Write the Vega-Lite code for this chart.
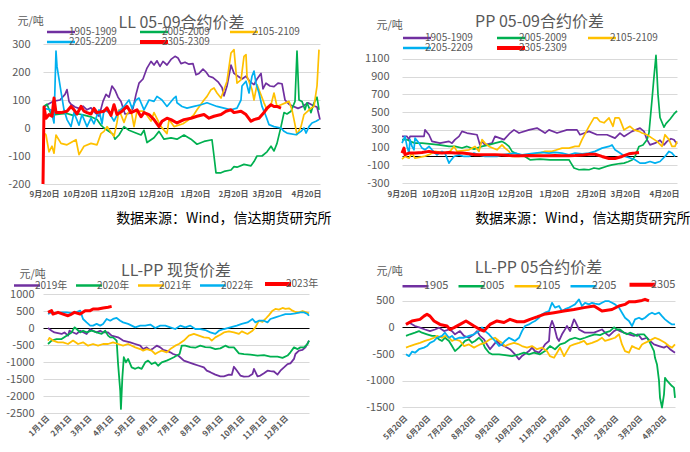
{
"$schema": "https://vega.github.io/schema/vega-lite/v6.json",
"background": "white",
"autosize": {"type": "pad"},
"padding": {"left": 5, "top": 14, "right": 0, "bottom": 0},
"config": {"font": "Noto Sans CJK SC", "view": {"stroke": null}, "axis": {"labelColor": "#595959", "domain": false, "ticks": false}, "legend": {"padding": 0}},
"columns": 2,
"spacing": {"row": 110, "column": 82},
"bounds": "flush",
"resolve": {"scale": {"color": "independent"}, "legend": {"color": "independent"}},
"datasets": {
"p1": [
{"s":"1905-1909","t":1,"v":75},{"s":"1905-1909","t":5,"v":85},{"s":"1905-1909","t":10,"v":95},{"s":"1905-1909","t":17,"v":100},{"s":"1905-1909","t":22,"v":120},{"s":"1905-1909","t":24,"v":137},{"s":"1905-1909","t":26,"v":95},{"s":"1905-1909","t":28,"v":85},{"s":"1905-1909","t":32,"v":75},{"s":"1905-1909","t":36,"v":70},{"s":"1905-1909","t":40,"v":78},{"s":"1905-1909","t":44,"v":65},{"s":"1905-1909","t":48,"v":72},{"s":"1905-1909","t":52,"v":55},{"s":"1905-1909","t":56,"v":42},{"s":"1905-1909","t":60,"v":95},{"s":"1905-1909","t":63,"v":120},{"s":"1905-1909","t":66,"v":110},{"s":"1905-1909","t":69,"v":150},{"s":"1905-1909","t":72,"v":135},{"s":"1905-1909","t":75,"v":110},{"s":"1905-1909","t":78,"v":95},{"s":"1905-1909","t":82,"v":50},{"s":"1905-1909","t":86,"v":52},{"s":"1905-1909","t":90,"v":70},{"s":"1905-1909","t":93,"v":120},{"s":"1905-1909","t":96,"v":160},{"s":"1905-1909","t":100,"v":175},{"s":"1905-1909","t":104,"v":214},{"s":"1905-1909","t":108,"v":238},{"s":"1905-1909","t":111,"v":225},{"s":"1905-1909","t":114,"v":240},{"s":"1905-1909","t":117,"v":220},{"s":"1905-1909","t":120,"v":238},{"s":"1905-1909","t":124,"v":225},{"s":"1905-1909","t":128,"v":245},{"s":"1905-1909","t":132,"v":256},{"s":"1905-1909","t":135,"v":250},{"s":"1905-1909","t":138,"v":230},{"s":"1905-1909","t":142,"v":235},{"s":"1905-1909","t":146,"v":228},{"s":"1905-1909","t":150,"v":230},{"s":"1905-1909","t":153,"v":190},{"s":"1905-1909","t":156,"v":195},{"s":"1905-1909","t":160,"v":210},{"s":"1905-1909","t":163,"v":200},{"s":"1905-1909","t":166,"v":185},{"s":"1905-1909","t":170,"v":180},{"s":"1905-1909","t":175,"v":165},{"s":"1905-1909","t":179,"v":145},{"s":"1905-1909","t":181,"v":115},{"s":"1905-1909","t":184,"v":150},{"s":"1905-1909","t":188,"v":225},{"s":"1905-1909","t":191,"v":195},{"s":"1905-1909","t":195,"v":185},{"s":"1905-1909","t":199,"v":175},{"s":"1905-1909","t":203,"v":185},{"s":"1905-1909","t":207,"v":165},{"s":"1905-1909","t":211,"v":155},{"s":"1905-1909","t":214,"v":175},{"s":"1905-1909","t":218,"v":195},{"s":"1905-1909","t":220,"v":140},{"s":"1905-1909","t":223,"v":160},{"s":"1905-1909","t":227,"v":150},{"s":"1905-1909","t":231,"v":148},{"s":"1905-1909","t":235,"v":160},{"s":"1905-1909","t":239,"v":158},{"s":"1905-1909","t":242,"v":100},{"s":"1905-1909","t":246,"v":85},{"s":"1905-1909","t":250,"v":78},{"s":"1905-1909","t":255,"v":70},{"s":"1905-1909","t":260,"v":78},{"s":"1905-1909","t":265,"v":90},{"s":"1905-1909","t":270,"v":80},{"s":"1905-1909","t":274,"v":75},{"s":"1905-1909","t":277,"v":30},
{"s":"2005-2009","t":1,"v":78},{"s":"2005-2009","t":4,"v":85},{"s":"2005-2009","t":8,"v":50},{"s":"2005-2009","t":12,"v":48},{"s":"2005-2009","t":18,"v":50},{"s":"2005-2009","t":24,"v":52},{"s":"2005-2009","t":30,"v":45},{"s":"2005-2009","t":36,"v":50},{"s":"2005-2009","t":42,"v":45},{"s":"2005-2009","t":48,"v":40},{"s":"2005-2009","t":54,"v":30},{"s":"2005-2009","t":58,"v":10},{"s":"2005-2009","t":61,"v":0},{"s":"2005-2009","t":65,"v":-10},{"s":"2005-2009","t":70,"v":-22},{"s":"2005-2009","t":72,"v":-40},{"s":"2005-2009","t":76,"v":-25},{"s":"2005-2009","t":81,"v":5},{"s":"2005-2009","t":86,"v":-8},{"s":"2005-2009","t":91,"v":-15},{"s":"2005-2009","t":98,"v":-25},{"s":"2005-2009","t":101,"v":-8},{"s":"2005-2009","t":104,"v":-52},{"s":"2005-2009","t":111,"v":-35},{"s":"2005-2009","t":116,"v":-12},{"s":"2005-2009","t":121,"v":-40},{"s":"2005-2009","t":128,"v":-35},{"s":"2005-2009","t":134,"v":-40},{"s":"2005-2009","t":141,"v":-25},{"s":"2005-2009","t":148,"v":-40},{"s":"2005-2009","t":154,"v":-58},{"s":"2005-2009","t":161,"v":-48},{"s":"2005-2009","t":169,"v":-42},{"s":"2005-2009","t":171,"v":-100},{"s":"2005-2009","t":173,"v":-160},{"s":"2005-2009","t":178,"v":-160},{"s":"2005-2009","t":181,"v":-155},{"s":"2005-2009","t":188,"v":-150},{"s":"2005-2009","t":191,"v":-138},{"s":"2005-2009","t":194,"v":-140},{"s":"2005-2009","t":201,"v":-130},{"s":"2005-2009","t":208,"v":-135},{"s":"2005-2009","t":211,"v":-120},{"s":"2005-2009","t":214,"v":-100},{"s":"2005-2009","t":219,"v":-100},{"s":"2005-2009","t":224,"v":-85},{"s":"2005-2009","t":228,"v":-65},{"s":"2005-2009","t":231,"v":-82},{"s":"2005-2009","t":234,"v":-55},{"s":"2005-2009","t":238,"v":5},{"s":"2005-2009","t":241,"v":55},{"s":"2005-2009","t":244,"v":50},{"s":"2005-2009","t":248,"v":60},{"s":"2005-2009","t":252,"v":95},{"s":"2005-2009","t":254,"v":275},{"s":"2005-2009","t":256,"v":100},{"s":"2005-2009","t":259,"v":95},{"s":"2005-2009","t":262,"v":65},{"s":"2005-2009","t":264,"v":90},{"s":"2005-2009","t":268,"v":55},{"s":"2005-2009","t":271,"v":90},{"s":"2005-2009","t":274,"v":110},{"s":"2005-2009","t":276,"v":65},
{"s":"2105-2109","t":2,"v":-20},{"s":"2105-2109","t":3,"v":-25},{"s":"2105-2109","t":6,"v":-85},{"s":"2105-2109","t":9,"v":-65},{"s":"2105-2109","t":11,"v":-90},{"s":"2105-2109","t":13,"v":-25},{"s":"2105-2109","t":18,"v":-55},{"s":"2105-2109","t":24,"v":-60},{"s":"2105-2109","t":33,"v":-42},{"s":"2105-2109","t":36,"v":-95},{"s":"2105-2109","t":41,"v":-65},{"s":"2105-2109","t":48,"v":-55},{"s":"2105-2109","t":54,"v":-60},{"s":"2105-2109","t":58,"v":-20},{"s":"2105-2109","t":61,"v":-12},{"s":"2105-2109","t":64,"v":5},{"s":"2105-2109","t":71,"v":-30},{"s":"2105-2109","t":74,"v":20},{"s":"2105-2109","t":76,"v":65},{"s":"2105-2109","t":81,"v":20},{"s":"2105-2109","t":84,"v":50},{"s":"2105-2109","t":88,"v":65},{"s":"2105-2109","t":91,"v":5},{"s":"2105-2109","t":94,"v":60},{"s":"2105-2109","t":101,"v":60},{"s":"2105-2109","t":108,"v":25},{"s":"2105-2109","t":111,"v":55},{"s":"2105-2109","t":118,"v":5},{"s":"2105-2109","t":124,"v":-20},{"s":"2105-2109","t":126,"v":30},{"s":"2105-2109","t":131,"v":5},{"s":"2105-2109","t":140,"v":15},{"s":"2105-2109","t":146,"v":30},{"s":"2105-2109","t":151,"v":48},{"s":"2105-2109","t":154,"v":65},{"s":"2105-2109","t":161,"v":100},{"s":"2105-2109","t":164,"v":113},{"s":"2105-2109","t":168,"v":137},{"s":"2105-2109","t":171,"v":143},{"s":"2105-2109","t":174,"v":125},{"s":"2105-2109","t":178,"v":107},{"s":"2105-2109","t":184,"v":167},{"s":"2105-2109","t":188,"v":268},{"s":"2105-2109","t":191,"v":280},{"s":"2105-2109","t":194,"v":160},{"s":"2105-2109","t":198,"v":172},{"s":"2105-2109","t":201,"v":256},{"s":"2105-2109","t":203,"v":262},{"s":"2105-2109","t":204,"v":185},{"s":"2105-2109","t":209,"v":137},{"s":"2105-2109","t":211,"v":100},{"s":"2105-2109","t":214,"v":155},{"s":"2105-2109","t":221,"v":90},{"s":"2105-2109","t":224,"v":65},{"s":"2105-2109","t":228,"v":83},{"s":"2105-2109","t":231,"v":125},{"s":"2105-2109","t":234,"v":77},{"s":"2105-2109","t":246,"v":95},{"s":"2105-2109","t":249,"v":65},{"s":"2105-2109","t":251,"v":30},{"s":"2105-2109","t":254,"v":-24},{"s":"2105-2109","t":258,"v":5},{"s":"2105-2109","t":261,"v":48},{"s":"2105-2109","t":268,"v":71},{"s":"2105-2109","t":271,"v":77},{"s":"2105-2109","t":274,"v":150},{"s":"2105-2109","t":276,"v":280},
{"s":"2205-2209","t":1,"v":70},{"s":"2205-2209","t":8,"v":65},{"s":"2205-2209","t":11,"v":18},{"s":"2205-2209","t":12,"v":150},{"s":"2205-2209","t":13,"v":275},{"s":"2205-2209","t":14,"v":220},{"s":"2205-2209","t":18,"v":130},{"s":"2205-2209","t":21,"v":65},{"s":"2205-2209","t":24,"v":30},{"s":"2205-2209","t":28,"v":5},{"s":"2205-2209","t":31,"v":55},{"s":"2205-2209","t":36,"v":10},{"s":"2205-2209","t":39,"v":48},{"s":"2205-2209","t":44,"v":5},{"s":"2205-2209","t":48,"v":35},{"s":"2205-2209","t":51,"v":15},{"s":"2205-2209","t":56,"v":65},{"s":"2205-2209","t":59,"v":15},{"s":"2205-2209","t":61,"v":65},{"s":"2205-2209","t":66,"v":55},{"s":"2205-2209","t":71,"v":25},{"s":"2205-2209","t":76,"v":60},{"s":"2205-2209","t":81,"v":77},{"s":"2205-2209","t":86,"v":100},{"s":"2205-2209","t":89,"v":71},{"s":"2205-2209","t":93,"v":100},{"s":"2205-2209","t":96,"v":107},{"s":"2205-2209","t":101,"v":65},{"s":"2205-2209","t":106,"v":100},{"s":"2205-2209","t":111,"v":95},{"s":"2205-2209","t":114,"v":113},{"s":"2205-2209","t":119,"v":100},{"s":"2205-2209","t":124,"v":77},{"s":"2205-2209","t":131,"v":107},{"s":"2205-2209","t":133,"v":113},{"s":"2205-2209","t":134,"v":90},{"s":"2205-2209","t":139,"v":77},{"s":"2205-2209","t":144,"v":71},{"s":"2205-2209","t":151,"v":77},{"s":"2205-2209","t":158,"v":83},{"s":"2205-2209","t":164,"v":90},{"s":"2205-2209","t":174,"v":77},{"s":"2205-2209","t":188,"v":65},{"s":"2205-2209","t":194,"v":71},{"s":"2205-2209","t":198,"v":100},{"s":"2205-2209","t":199,"v":150},{"s":"2205-2209","t":203,"v":167},{"s":"2205-2209","t":206,"v":125},{"s":"2205-2209","t":209,"v":185},{"s":"2205-2209","t":211,"v":203},{"s":"2205-2209","t":213,"v":160},{"s":"2205-2209","t":216,"v":125},{"s":"2205-2209","t":219,"v":77},{"s":"2205-2209","t":223,"v":42},{"s":"2205-2209","t":226,"v":12},{"s":"2205-2209","t":231,"v":5},{"s":"2205-2209","t":238,"v":0},{"s":"2205-2209","t":241,"v":-12},{"s":"2205-2209","t":244,"v":-18},{"s":"2205-2209","t":253,"v":-24},{"s":"2205-2209","t":258,"v":-12},{"s":"2205-2209","t":261,"v":0},{"s":"2205-2209","t":263,"v":-18},{"s":"2205-2209","t":266,"v":5},{"s":"2205-2209","t":269,"v":18},{"s":"2205-2209","t":273,"v":24},{"s":"2205-2209","t":276,"v":30},
{"s":"2305-2309","t":0,"v":-200},{"s":"2305-2309","t":1,"v":75},{"s":"2305-2309","t":3,"v":35},{"s":"2305-2309","t":6,"v":48},{"s":"2305-2309","t":9,"v":42},{"s":"2305-2309","t":11,"v":107},{"s":"2305-2309","t":13,"v":55},{"s":"2305-2309","t":18,"v":55},{"s":"2305-2309","t":24,"v":60},{"s":"2305-2309","t":28,"v":77},{"s":"2305-2309","t":31,"v":65},{"s":"2305-2309","t":34,"v":50},{"s":"2305-2309","t":38,"v":77},{"s":"2305-2309","t":41,"v":60},{"s":"2305-2309","t":44,"v":55},{"s":"2305-2309","t":48,"v":50},{"s":"2305-2309","t":51,"v":70},{"s":"2305-2309","t":54,"v":55},{"s":"2305-2309","t":61,"v":60},{"s":"2305-2309","t":64,"v":72},{"s":"2305-2309","t":68,"v":45},{"s":"2305-2309","t":71,"v":83},{"s":"2305-2309","t":74,"v":48},{"s":"2305-2309","t":79,"v":60},{"s":"2305-2309","t":84,"v":77},{"s":"2305-2309","t":88,"v":55},{"s":"2305-2309","t":94,"v":65},{"s":"2305-2309","t":98,"v":40},{"s":"2305-2309","t":101,"v":55},{"s":"2305-2309","t":106,"v":48},{"s":"2305-2309","t":111,"v":30},{"s":"2305-2309","t":116,"v":5},{"s":"2305-2309","t":119,"v":24},{"s":"2305-2309","t":124,"v":35},{"s":"2305-2309","t":128,"v":30},{"s":"2305-2309","t":134,"v":18},{"s":"2305-2309","t":141,"v":30},{"s":"2305-2309","t":148,"v":35},{"s":"2305-2309","t":154,"v":42},{"s":"2305-2309","t":161,"v":48},{"s":"2305-2309","t":166,"v":35},{"s":"2305-2309","t":171,"v":42},{"s":"2305-2309","t":178,"v":48},{"s":"2305-2309","t":183,"v":60},{"s":"2305-2309","t":188,"v":65},{"s":"2305-2309","t":191,"v":55},{"s":"2305-2309","t":198,"v":60},{"s":"2305-2309","t":203,"v":48},{"s":"2305-2309","t":208,"v":24},{"s":"2305-2309","t":211,"v":30},{"s":"2305-2309","t":216,"v":35},{"s":"2305-2309","t":221,"v":55},{"s":"2305-2309","t":224,"v":71},{"s":"2305-2309","t":228,"v":83},{"s":"2305-2309","t":231,"v":77},{"s":"2305-2309","t":234,"v":77},{"s":"2305-2309","t":238,"v":71}
],
"p2": [
{"s":"1905-1909","t":0,"v":226},{"s":"1905-1909","t":5,"v":226},{"s":"1905-1909","t":7,"v":190},{"s":"1905-1909","t":8,"v":226},{"s":"1905-1909","t":12,"v":226},{"s":"1905-1909","t":22,"v":226},{"s":"1905-1909","t":23,"v":300},{"s":"1905-1909","t":27,"v":245},{"s":"1905-1909","t":30,"v":170},{"s":"1905-1909","t":38,"v":150},{"s":"1905-1909","t":47,"v":170},{"s":"1905-1909","t":50,"v":150},{"s":"1905-1909","t":53,"v":190},{"s":"1905-1909","t":57,"v":226},{"s":"1905-1909","t":60,"v":283},{"s":"1905-1909","t":65,"v":264},{"s":"1905-1909","t":75,"v":245},{"s":"1905-1909","t":78,"v":130},{"s":"1905-1909","t":80,"v":170},{"s":"1905-1909","t":83,"v":130},{"s":"1905-1909","t":90,"v":150},{"s":"1905-1909","t":93,"v":226},{"s":"1905-1909","t":102,"v":190},{"s":"1905-1909","t":108,"v":264},{"s":"1905-1909","t":112,"v":300},{"s":"1905-1909","t":117,"v":264},{"s":"1905-1909","t":127,"v":300},{"s":"1905-1909","t":135,"v":320},{"s":"1905-1909","t":143,"v":264},{"s":"1905-1909","t":147,"v":300},{"s":"1905-1909","t":155,"v":264},{"s":"1905-1909","t":165,"v":300},{"s":"1905-1909","t":175,"v":300},{"s":"1905-1909","t":178,"v":245},{"s":"1905-1909","t":187,"v":283},{"s":"1905-1909","t":195,"v":245},{"s":"1905-1909","t":205,"v":245},{"s":"1905-1909","t":213,"v":207},{"s":"1905-1909","t":218,"v":264},{"s":"1905-1909","t":222,"v":226},{"s":"1905-1909","t":230,"v":283},{"s":"1905-1909","t":238,"v":320},{"s":"1905-1909","t":242,"v":283},{"s":"1905-1909","t":245,"v":190},{"s":"1905-1909","t":248,"v":130},{"s":"1905-1909","t":253,"v":150},{"s":"1905-1909","t":258,"v":183},{"s":"1905-1909","t":262,"v":130},{"s":"1905-1909","t":265,"v":170},{"s":"1905-1909","t":269,"v":200},{"s":"1905-1909","t":272,"v":189},{"s":"1905-1909","t":275,"v":140},
{"s":"2005-2009","t":0,"v":190},{"s":"2005-2009","t":5,"v":190},{"s":"2005-2009","t":8,"v":170},{"s":"2005-2009","t":13,"v":150},{"s":"2005-2009","t":20,"v":150},{"s":"2005-2009","t":30,"v":140},{"s":"2005-2009","t":37,"v":130},{"s":"2005-2009","t":47,"v":113},{"s":"2005-2009","t":53,"v":113},{"s":"2005-2009","t":60,"v":95},{"s":"2005-2009","t":65,"v":113},{"s":"2005-2009","t":72,"v":83},{"s":"2005-2009","t":75,"v":94},{"s":"2005-2009","t":80,"v":113},{"s":"2005-2009","t":87,"v":130},{"s":"2005-2009","t":93,"v":150},{"s":"2005-2009","t":100,"v":170},{"s":"2005-2009","t":103,"v":150},{"s":"2005-2009","t":107,"v":113},{"s":"2005-2009","t":110,"v":57},{"s":"2005-2009","t":113,"v":38},{"s":"2005-2009","t":123,"v":0},{"s":"2005-2009","t":128,"v":-38},{"s":"2005-2009","t":138,"v":-30},{"s":"2005-2009","t":148,"v":-38},{"s":"2005-2009","t":167,"v":-38},{"s":"2005-2009","t":169,"v":-75},{"s":"2005-2009","t":172,"v":-130},{"s":"2005-2009","t":177,"v":-150},{"s":"2005-2009","t":182,"v":-145},{"s":"2005-2009","t":187,"v":-150},{"s":"2005-2009","t":192,"v":-130},{"s":"2005-2009","t":197,"v":-140},{"s":"2005-2009","t":205,"v":-110},{"s":"2005-2009","t":210,"v":-95},{"s":"2005-2009","t":218,"v":-80},{"s":"2005-2009","t":222,"v":-75},{"s":"2005-2009","t":226,"v":-60},{"s":"2005-2009","t":230,"v":-40},{"s":"2005-2009","t":233,"v":0},{"s":"2005-2009","t":237,"v":113},{"s":"2005-2009","t":241,"v":130},{"s":"2005-2009","t":245,"v":189},{"s":"2005-2009","t":247,"v":267},{"s":"2005-2009","t":250,"v":640},{"s":"2005-2009","t":252,"v":900},{"s":"2005-2009","t":254,"v":1140},{"s":"2005-2009","t":256,"v":700},{"s":"2005-2009","t":258,"v":440},{"s":"2005-2009","t":262,"v":330},{"s":"2005-2009","t":264,"v":370},{"s":"2005-2009","t":268,"v":420},{"s":"2005-2009","t":272,"v":480},{"s":"2005-2009","t":275,"v":515},
{"s":"2105-2109","t":0,"v":-30},{"s":"2105-2109","t":3,"v":0},{"s":"2105-2109","t":7,"v":-20},{"s":"2105-2109","t":10,"v":38},{"s":"2105-2109","t":13,"v":-20},{"s":"2105-2109","t":22,"v":0},{"s":"2105-2109","t":27,"v":20},{"s":"2105-2109","t":33,"v":57},{"s":"2105-2109","t":43,"v":38},{"s":"2105-2109","t":48,"v":57},{"s":"2105-2109","t":52,"v":113},{"s":"2105-2109","t":55,"v":57},{"s":"2105-2109","t":67,"v":75},{"s":"2105-2109","t":73,"v":113},{"s":"2105-2109","t":77,"v":57},{"s":"2105-2109","t":80,"v":190},{"s":"2105-2109","t":83,"v":150},{"s":"2105-2109","t":87,"v":113},{"s":"2105-2109","t":95,"v":75},{"s":"2105-2109","t":100,"v":130},{"s":"2105-2109","t":103,"v":94},{"s":"2105-2109","t":107,"v":57},{"s":"2105-2109","t":110,"v":0},{"s":"2105-2109","t":117,"v":0},{"s":"2105-2109","t":128,"v":20},{"s":"2105-2109","t":138,"v":38},{"s":"2105-2109","t":143,"v":57},{"s":"2105-2109","t":150,"v":57},{"s":"2105-2109","t":155,"v":75},{"s":"2105-2109","t":160,"v":94},{"s":"2105-2109","t":167,"v":94},{"s":"2105-2109","t":173,"v":113},{"s":"2105-2109","t":177,"v":113},{"s":"2105-2109","t":180,"v":190},{"s":"2105-2109","t":187,"v":340},{"s":"2105-2109","t":192,"v":435},{"s":"2105-2109","t":195,"v":435},{"s":"2105-2109","t":198,"v":395},{"s":"2105-2109","t":202,"v":380},{"s":"2105-2109","t":207,"v":435},{"s":"2105-2109","t":211,"v":340},{"s":"2105-2109","t":213,"v":435},{"s":"2105-2109","t":217,"v":435},{"s":"2105-2109","t":218,"v":415},{"s":"2105-2109","t":222,"v":300},{"s":"2105-2109","t":225,"v":320},{"s":"2105-2109","t":228,"v":340},{"s":"2105-2109","t":232,"v":300},{"s":"2105-2109","t":237,"v":283},{"s":"2105-2109","t":240,"v":264},{"s":"2105-2109","t":245,"v":245},{"s":"2105-2109","t":250,"v":207},{"s":"2105-2109","t":255,"v":170},{"s":"2105-2109","t":260,"v":113},{"s":"2105-2109","t":263,"v":245},{"s":"2105-2109","t":267,"v":190},{"s":"2105-2109","t":270,"v":113},{"s":"2105-2109","t":273,"v":113},{"s":"2105-2109","t":275,"v":170},
{"s":"2205-2209","t":0,"v":150},{"s":"2205-2209","t":3,"v":226},{"s":"2205-2209","t":5,"v":113},{"s":"2205-2209","t":7,"v":38},{"s":"2205-2209","t":8,"v":190},{"s":"2205-2209","t":10,"v":113},{"s":"2205-2209","t":12,"v":75},{"s":"2205-2209","t":13,"v":207},{"s":"2205-2209","t":17,"v":150},{"s":"2205-2209","t":20,"v":94},{"s":"2205-2209","t":23,"v":75},{"s":"2205-2209","t":27,"v":113},{"s":"2205-2209","t":30,"v":75},{"s":"2205-2209","t":35,"v":18},{"s":"2205-2209","t":40,"v":57},{"s":"2205-2209","t":43,"v":38},{"s":"2205-2209","t":47,"v":-75},{"s":"2205-2209","t":48,"v":-57},{"s":"2205-2209","t":52,"v":0},{"s":"2205-2209","t":57,"v":18},{"s":"2205-2209","t":62,"v":0},{"s":"2205-2209","t":67,"v":0},{"s":"2205-2209","t":72,"v":38},{"s":"2205-2209","t":77,"v":18},{"s":"2205-2209","t":83,"v":0},{"s":"2205-2209","t":90,"v":0},{"s":"2205-2209","t":95,"v":0},{"s":"2205-2209","t":100,"v":18},{"s":"2205-2209","t":107,"v":30},{"s":"2205-2209","t":113,"v":38},{"s":"2205-2209","t":120,"v":18},{"s":"2205-2209","t":127,"v":30},{"s":"2205-2209","t":133,"v":38},{"s":"2205-2209","t":140,"v":45},{"s":"2205-2209","t":147,"v":38},{"s":"2205-2209","t":153,"v":45},{"s":"2205-2209","t":160,"v":38},{"s":"2205-2209","t":167,"v":18},{"s":"2205-2209","t":173,"v":38},{"s":"2205-2209","t":180,"v":30},{"s":"2205-2209","t":187,"v":38},{"s":"2205-2209","t":193,"v":57},{"s":"2205-2209","t":200,"v":94},{"s":"2205-2209","t":207,"v":113},{"s":"2205-2209","t":210,"v":130},{"s":"2205-2209","t":213,"v":75},{"s":"2205-2209","t":218,"v":38},{"s":"2205-2209","t":223,"v":0},{"s":"2205-2209","t":228,"v":-18},{"s":"2205-2209","t":233,"v":-38},{"s":"2205-2209","t":238,"v":-75},{"s":"2205-2209","t":243,"v":-75},{"s":"2205-2209","t":248,"v":-57},{"s":"2205-2209","t":253,"v":-75},{"s":"2205-2209","t":258,"v":-57},{"s":"2205-2209","t":263,"v":0},{"s":"2205-2209","t":267,"v":57},{"s":"2205-2209","t":270,"v":38},{"s":"2205-2209","t":273,"v":0},
{"s":"2305-2309","t":0,"v":38},{"s":"2305-2309","t":2,"v":94},{"s":"2305-2309","t":3,"v":20},{"s":"2305-2309","t":7,"v":38},{"s":"2305-2309","t":13,"v":38},{"s":"2305-2309","t":20,"v":45},{"s":"2305-2309","t":27,"v":57},{"s":"2305-2309","t":33,"v":45},{"s":"2305-2309","t":40,"v":38},{"s":"2305-2309","t":47,"v":45},{"s":"2305-2309","t":53,"v":38},{"s":"2305-2309","t":60,"v":38},{"s":"2305-2309","t":67,"v":30},{"s":"2305-2309","t":73,"v":18},{"s":"2305-2309","t":80,"v":20},{"s":"2305-2309","t":87,"v":18},{"s":"2305-2309","t":93,"v":18},{"s":"2305-2309","t":100,"v":15},{"s":"2305-2309","t":107,"v":10},{"s":"2305-2309","t":113,"v":8},{"s":"2305-2309","t":120,"v":8},{"s":"2305-2309","t":127,"v":10},{"s":"2305-2309","t":133,"v":8},{"s":"2305-2309","t":140,"v":8},{"s":"2305-2309","t":147,"v":8},{"s":"2305-2309","t":153,"v":10},{"s":"2305-2309","t":160,"v":8},{"s":"2305-2309","t":167,"v":8},{"s":"2305-2309","t":173,"v":10},{"s":"2305-2309","t":180,"v":15},{"s":"2305-2309","t":187,"v":25},{"s":"2305-2309","t":193,"v":25},{"s":"2305-2309","t":200,"v":0},{"s":"2305-2309","t":207,"v":-23},{"s":"2305-2309","t":213,"v":-23},{"s":"2305-2309","t":220,"v":0},{"s":"2305-2309","t":227,"v":30},{"s":"2305-2309","t":233,"v":38},{"s":"2305-2309","t":237,"v":45}
],
"p3": [
{"s":"2019年","t":0,"v":0},{"s":"2019年","t":5,"v":-80},{"s":"2019年","t":9,"v":-130},{"s":"2019年","t":19,"v":-175},{"s":"2019年","t":23,"v":-130},{"s":"2019年","t":28,"v":-225},{"s":"2019年","t":30,"v":-80},{"s":"2019年","t":40,"v":-175},{"s":"2019年","t":45,"v":-80},{"s":"2019年","t":54,"v":-175},{"s":"2019年","t":59,"v":-30},{"s":"2019年","t":63,"v":-80},{"s":"2019年","t":68,"v":-130},{"s":"2019年","t":73,"v":-80},{"s":"2019年","t":77,"v":-130},{"s":"2019年","t":84,"v":-130},{"s":"2019年","t":89,"v":-225},{"s":"2019年","t":98,"v":-275},{"s":"2019年","t":105,"v":-370},{"s":"2019年","t":115,"v":-420},{"s":"2019年","t":122,"v":-470},{"s":"2019年","t":129,"v":-520},{"s":"2019年","t":133,"v":-620},{"s":"2019年","t":138,"v":-570},{"s":"2019年","t":143,"v":-650},{"s":"2019年","t":147,"v":-600},{"s":"2019年","t":152,"v":-520},{"s":"2019年","t":157,"v":-570},{"s":"2019年","t":161,"v":-640},{"s":"2019年","t":166,"v":-670},{"s":"2019年","t":171,"v":-715},{"s":"2019年","t":175,"v":-765},{"s":"2019年","t":182,"v":-810},{"s":"2019年","t":190,"v":-960},{"s":"2019年","t":197,"v":-1010},{"s":"2019年","t":204,"v":-1060},{"s":"2019年","t":211,"v":-1110},{"s":"2019年","t":218,"v":-1160},{"s":"2019年","t":222,"v":-1255},{"s":"2019年","t":227,"v":-1300},{"s":"2019年","t":234,"v":-1370},{"s":"2019年","t":241,"v":-1420},{"s":"2019年","t":246,"v":-1420},{"s":"2019年","t":253,"v":-1370},{"s":"2019年","t":257,"v":-1380},{"s":"2019年","t":260,"v":-1140},{"s":"2019年","t":264,"v":-1250},{"s":"2019年","t":269,"v":-1400},{"s":"2019年","t":274,"v":-1430},{"s":"2019年","t":281,"v":-1420},{"s":"2019年","t":286,"v":-1350},{"s":"2019年","t":288,"v":-1205},{"s":"2019年","t":293,"v":-1420},{"s":"2019年","t":297,"v":-1400},{"s":"2019年","t":302,"v":-1330},{"s":"2019年","t":307,"v":-1255},{"s":"2019年","t":311,"v":-1270},{"s":"2019年","t":316,"v":-1280},{"s":"2019年","t":321,"v":-1370},{"s":"2019年","t":325,"v":-1255},{"s":"2019年","t":330,"v":-1160},{"s":"2019年","t":335,"v":-1060},{"s":"2019年","t":339,"v":-1040},{"s":"2019年","t":344,"v":-910},{"s":"2019年","t":346,"v":-765},{"s":"2019年","t":351,"v":-665},{"s":"2019年","t":356,"v":-640},{"s":"2019年","t":360,"v":-570},{"s":"2019年","t":365,"v":-370},
{"s":"2020年","t":0,"v":-470},{"s":"2020年","t":5,"v":-370},{"s":"2020年","t":12,"v":-330},{"s":"2020年","t":19,"v":-325},{"s":"2020年","t":26,"v":-225},{"s":"2020年","t":33,"v":-130},{"s":"2020年","t":37,"v":20},{"s":"2020年","t":40,"v":-30},{"s":"2020年","t":45,"v":-130},{"s":"2020年","t":49,"v":-80},{"s":"2020年","t":54,"v":-130},{"s":"2020年","t":61,"v":-80},{"s":"2020年","t":68,"v":-130},{"s":"2020年","t":75,"v":-175},{"s":"2020年","t":80,"v":-80},{"s":"2020年","t":84,"v":-225},{"s":"2020年","t":87,"v":-275},{"s":"2020年","t":91,"v":-275},{"s":"2020年","t":96,"v":-370},{"s":"2020年","t":98,"v":-1060},{"s":"2020年","t":101,"v":-1840},{"s":"2020年","t":102,"v":-2380},{"s":"2020年","t":104,"v":-1450},{"s":"2020年","t":106,"v":-860},{"s":"2020年","t":109,"v":-1010},{"s":"2020年","t":112,"v":-910},{"s":"2020年","t":117,"v":-1160},{"s":"2020年","t":122,"v":-1200},{"s":"2020年","t":126,"v":-1160},{"s":"2020年","t":131,"v":-1200},{"s":"2020年","t":136,"v":-1010},{"s":"2020年","t":140,"v":-960},{"s":"2020年","t":145,"v":-1060},{"s":"2020年","t":150,"v":-1010},{"s":"2020年","t":154,"v":-1110},{"s":"2020年","t":159,"v":-1010},{"s":"2020年","t":166,"v":-960},{"s":"2020年","t":171,"v":-910},{"s":"2020年","t":176,"v":-860},{"s":"2020年","t":180,"v":-810},{"s":"2020年","t":184,"v":-765},{"s":"2020年","t":187,"v":-520},{"s":"2020年","t":192,"v":-520},{"s":"2020年","t":199,"v":-560},{"s":"2020年","t":206,"v":-580},{"s":"2020年","t":213,"v":-520},{"s":"2020年","t":220,"v":-560},{"s":"2020年","t":227,"v":-570},{"s":"2020年","t":234,"v":-620},{"s":"2020年","t":241,"v":-600},{"s":"2020年","t":248,"v":-520},{"s":"2020年","t":253,"v":-570},{"s":"2020年","t":260,"v":-570},{"s":"2020年","t":267,"v":-745},{"s":"2020年","t":274,"v":-770},{"s":"2020年","t":283,"v":-785},{"s":"2020年","t":293,"v":-810},{"s":"2020年","t":302,"v":-800},{"s":"2020年","t":311,"v":-840},{"s":"2020年","t":321,"v":-840},{"s":"2020年","t":328,"v":-880},{"s":"2020年","t":335,"v":-810},{"s":"2020年","t":339,"v":-715},{"s":"2020年","t":344,"v":-570},{"s":"2020年","t":349,"v":-620},{"s":"2020年","t":353,"v":-570},{"s":"2020年","t":358,"v":-570},{"s":"2020年","t":363,"v":-470},{"s":"2020年","t":365,"v":-370},
{"s":"2021年","t":0,"v":-370},{"s":"2021年","t":2,"v":-290},{"s":"2021年","t":7,"v":-370},{"s":"2021年","t":14,"v":-420},{"s":"2021年","t":21,"v":-420},{"s":"2021年","t":28,"v":-470},{"s":"2021年","t":35,"v":-370},{"s":"2021年","t":42,"v":-470},{"s":"2021年","t":49,"v":-420},{"s":"2021年","t":56,"v":-520},{"s":"2021年","t":63,"v":-470},{"s":"2021年","t":70,"v":-520},{"s":"2021年","t":77,"v":-470},{"s":"2021年","t":84,"v":-470},{"s":"2021年","t":91,"v":-420},{"s":"2021年","t":98,"v":-470},{"s":"2021年","t":105,"v":-520},{"s":"2021年","t":112,"v":-470},{"s":"2021年","t":122,"v":-570},{"s":"2021年","t":129,"v":-620},{"s":"2021年","t":133,"v":-665},{"s":"2021年","t":138,"v":-620},{"s":"2021年","t":145,"v":-665},{"s":"2021年","t":150,"v":-765},{"s":"2021年","t":154,"v":-715},{"s":"2021年","t":159,"v":-665},{"s":"2021年","t":166,"v":-715},{"s":"2021年","t":171,"v":-620},{"s":"2021年","t":178,"v":-520},{"s":"2021年","t":183,"v":-470},{"s":"2021年","t":190,"v":-370},{"s":"2021年","t":197,"v":-225},{"s":"2021年","t":204,"v":-175},{"s":"2021年","t":211,"v":-225},{"s":"2021年","t":218,"v":-275},{"s":"2021年","t":225,"v":-290},{"s":"2021年","t":229,"v":-370},{"s":"2021年","t":234,"v":-275},{"s":"2021年","t":241,"v":-200},{"s":"2021年","t":246,"v":-130},{"s":"2021年","t":253,"v":-100},{"s":"2021年","t":260,"v":-130},{"s":"2021年","t":267,"v":-175},{"s":"2021年","t":271,"v":-100},{"s":"2021年","t":279,"v":-175},{"s":"2021年","t":286,"v":-80},{"s":"2021年","t":290,"v":20},{"s":"2021年","t":295,"v":215},{"s":"2021年","t":300,"v":180},{"s":"2021年","t":304,"v":265},{"s":"2021年","t":309,"v":380},{"s":"2021年","t":314,"v":510},{"s":"2021年","t":318,"v":560},{"s":"2021年","t":323,"v":540},{"s":"2021年","t":328,"v":590},{"s":"2021年","t":332,"v":560},{"s":"2021年","t":337,"v":580},{"s":"2021年","t":342,"v":510},{"s":"2021年","t":346,"v":470},{"s":"2021年","t":351,"v":460},{"s":"2021年","t":356,"v":500},{"s":"2021年","t":360,"v":470},{"s":"2021年","t":365,"v":430},
{"s":"2022年","t":0,"v":410},{"s":"2022年","t":5,"v":460},{"s":"2022年","t":12,"v":430},{"s":"2022年","t":19,"v":460},{"s":"2022年","t":26,"v":460},{"s":"2022年","t":33,"v":440},{"s":"2022年","t":40,"v":470},{"s":"2022年","t":45,"v":510},{"s":"2022年","t":49,"v":265},{"s":"2022年","t":54,"v":165},{"s":"2022年","t":59,"v":70},{"s":"2022年","t":63,"v":70},{"s":"2022年","t":68,"v":120},{"s":"2022年","t":73,"v":70},{"s":"2022年","t":77,"v":120},{"s":"2022年","t":82,"v":265},{"s":"2022年","t":87,"v":215},{"s":"2022年","t":91,"v":265},{"s":"2022年","t":96,"v":295},{"s":"2022年","t":101,"v":215},{"s":"2022年","t":105,"v":165},{"s":"2022年","t":112,"v":120},{"s":"2022年","t":117,"v":70},{"s":"2022年","t":122,"v":20},{"s":"2022年","t":129,"v":70},{"s":"2022年","t":136,"v":70},{"s":"2022年","t":143,"v":100},{"s":"2022年","t":150,"v":0},{"s":"2022年","t":157,"v":70},{"s":"2022年","t":164,"v":70},{"s":"2022年","t":171,"v":20},{"s":"2022年","t":178,"v":-30},{"s":"2022年","t":185,"v":70},{"s":"2022年","t":192,"v":20},{"s":"2022年","t":199,"v":70},{"s":"2022年","t":206,"v":-30},{"s":"2022年","t":213,"v":-30},{"s":"2022年","t":220,"v":-60},{"s":"2022年","t":227,"v":-130},{"s":"2022年","t":234,"v":-175},{"s":"2022年","t":239,"v":-80},{"s":"2022年","t":246,"v":-30},{"s":"2022年","t":255,"v":20},{"s":"2022年","t":264,"v":70},{"s":"2022年","t":271,"v":120},{"s":"2022年","t":279,"v":165},{"s":"2022年","t":286,"v":265},{"s":"2022年","t":290,"v":165},{"s":"2022年","t":295,"v":215},{"s":"2022年","t":302,"v":215},{"s":"2022年","t":307,"v":165},{"s":"2022年","t":311,"v":265},{"s":"2022年","t":318,"v":315},{"s":"2022年","t":325,"v":360},{"s":"2022年","t":332,"v":410},{"s":"2022年","t":339,"v":410},{"s":"2022年","t":346,"v":430},{"s":"2022年","t":353,"v":460},{"s":"2022年","t":358,"v":460},{"s":"2022年","t":363,"v":410},{"s":"2022年","t":365,"v":360},
{"s":"2023年","t":0,"v":460},{"s":"2023年","t":5,"v":510},{"s":"2023年","t":7,"v":410},{"s":"2023年","t":14,"v":460},{"s":"2023年","t":21,"v":410},{"s":"2023年","t":28,"v":360},{"s":"2023年","t":33,"v":410},{"s":"2023年","t":37,"v":460},{"s":"2023年","t":45,"v":410},{"s":"2023年","t":52,"v":510},{"s":"2023年","t":59,"v":510},{"s":"2023年","t":63,"v":560},{"s":"2023年","t":70,"v":560},{"s":"2023年","t":77,"v":590},{"s":"2023年","t":84,"v":610},{"s":"2023年","t":89,"v":635}
],
"p4": [
{"s":"1905","t":0,"v":55},{"s":"1905","t":3,"v":90},{"s":"1905","t":9,"v":25},{"s":"1905","t":14,"v":-5},{"s":"1905","t":19,"v":-40},{"s":"1905","t":24,"v":-70},{"s":"1905","t":29,"v":-40},{"s":"1905","t":33,"v":-5},{"s":"1905","t":38,"v":-70},{"s":"1905","t":43,"v":-40},{"s":"1905","t":46,"v":-70},{"s":"1905","t":49,"v":-130},{"s":"1905","t":54,"v":-70},{"s":"1905","t":58,"v":-160},{"s":"1905","t":63,"v":-195},{"s":"1905","t":68,"v":-130},{"s":"1905","t":71,"v":-70},{"s":"1905","t":74,"v":-160},{"s":"1905","t":78,"v":-225},{"s":"1905","t":81,"v":-320},{"s":"1905","t":84,"v":-410},{"s":"1905","t":88,"v":-320},{"s":"1905","t":91,"v":-255},{"s":"1905","t":94,"v":-320},{"s":"1905","t":98,"v":-350},{"s":"1905","t":104,"v":-410},{"s":"1905","t":109,"v":-505},{"s":"1905","t":113,"v":-600},{"s":"1905","t":116,"v":-535},{"s":"1905","t":123,"v":-445},{"s":"1905","t":126,"v":-380},{"s":"1905","t":129,"v":-445},{"s":"1905","t":133,"v":-475},{"s":"1905","t":136,"v":-410},{"s":"1905","t":139,"v":-320},{"s":"1905","t":143,"v":-255},{"s":"1905","t":144,"v":0},{"s":"1905","t":146,"v":120},{"s":"1905","t":148,"v":25},{"s":"1905","t":151,"v":-195},{"s":"1905","t":153,"v":-255},{"s":"1905","t":156,"v":-130},{"s":"1905","t":158,"v":-70},{"s":"1905","t":161,"v":25},{"s":"1905","t":164,"v":-70},{"s":"1905","t":168,"v":150},{"s":"1905","t":169,"v":120},{"s":"1905","t":173,"v":-40},{"s":"1905","t":176,"v":-70},{"s":"1905","t":179,"v":-100},{"s":"1905","t":188,"v":-100},{"s":"1905","t":196,"v":-40},{"s":"1905","t":199,"v":-100},{"s":"1905","t":203,"v":-160},{"s":"1905","t":208,"v":-70},{"s":"1905","t":211,"v":-40},{"s":"1905","t":214,"v":-70},{"s":"1905","t":218,"v":-100},{"s":"1905","t":223,"v":-130},{"s":"1905","t":228,"v":-160},{"s":"1905","t":232,"v":-130},{"s":"1905","t":236,"v":-225},{"s":"1905","t":241,"v":-195},{"s":"1905","t":244,"v":-255},{"s":"1905","t":248,"v":-320},{"s":"1905","t":253,"v":-350},{"s":"1905","t":258,"v":-380},{"s":"1905","t":261,"v":-350},{"s":"1905","t":264,"v":-410},{"s":"1905","t":269,"v":-475},
{"s":"2005","t":0,"v":-160},{"s":"2005","t":4,"v":-130},{"s":"2005","t":9,"v":-100},{"s":"2005","t":13,"v":-70},{"s":"2005","t":16,"v":-100},{"s":"2005","t":21,"v":-130},{"s":"2005","t":26,"v":-160},{"s":"2005","t":29,"v":-160},{"s":"2005","t":33,"v":-225},{"s":"2005","t":36,"v":-255},{"s":"2005","t":39,"v":-195},{"s":"2005","t":43,"v":-255},{"s":"2005","t":46,"v":-350},{"s":"2005","t":49,"v":-445},{"s":"2005","t":53,"v":-380},{"s":"2005","t":56,"v":-320},{"s":"2005","t":59,"v":-255},{"s":"2005","t":63,"v":-225},{"s":"2005","t":66,"v":-290},{"s":"2005","t":69,"v":-255},{"s":"2005","t":73,"v":-195},{"s":"2005","t":76,"v":-255},{"s":"2005","t":79,"v":-380},{"s":"2005","t":83,"v":-475},{"s":"2005","t":86,"v":-505},{"s":"2005","t":93,"v":-505},{"s":"2005","t":99,"v":-520},{"s":"2005","t":106,"v":-540},{"s":"2005","t":113,"v":-505},{"s":"2005","t":118,"v":-475},{"s":"2005","t":123,"v":-505},{"s":"2005","t":128,"v":-475},{"s":"2005","t":134,"v":-505},{"s":"2005","t":139,"v":-445},{"s":"2005","t":144,"v":-350},{"s":"2005","t":149,"v":-410},{"s":"2005","t":154,"v":-320},{"s":"2005","t":159,"v":-290},{"s":"2005","t":164,"v":-225},{"s":"2005","t":169,"v":-195},{"s":"2005","t":174,"v":-225},{"s":"2005","t":179,"v":-195},{"s":"2005","t":184,"v":-160},{"s":"2005","t":189,"v":-130},{"s":"2005","t":194,"v":-145},{"s":"2005","t":199,"v":-100},{"s":"2005","t":204,"v":-70},{"s":"2005","t":208,"v":0},{"s":"2005","t":211,"v":-40},{"s":"2005","t":214,"v":-40},{"s":"2005","t":218,"v":-100},{"s":"2005","t":221,"v":-130},{"s":"2005","t":224,"v":-100},{"s":"2005","t":228,"v":-130},{"s":"2005","t":231,"v":-160},{"s":"2005","t":234,"v":-130},{"s":"2005","t":238,"v":-130},{"s":"2005","t":241,"v":-195},{"s":"2005","t":244,"v":-290},{"s":"2005","t":248,"v":-445},{"s":"2005","t":249,"v":-570},{"s":"2005","t":251,"v":-695},{"s":"2005","t":253,"v":-1000},{"s":"2005","t":254,"v":-1320},{"s":"2005","t":256,"v":-1505},{"s":"2005","t":258,"v":-1255},{"s":"2005","t":259,"v":-945},{"s":"2005","t":261,"v":-1000},{"s":"2005","t":263,"v":-1040},{"s":"2005","t":266,"v":-1100},{"s":"2005","t":268,"v":-1130},{"s":"2005","t":269,"v":-1320},
{"s":"2105","t":0,"v":-380},{"s":"2105","t":4,"v":-350},{"s":"2105","t":9,"v":-320},{"s":"2105","t":14,"v":-290},{"s":"2105","t":19,"v":-255},{"s":"2105","t":24,"v":-225},{"s":"2105","t":28,"v":-195},{"s":"2105","t":31,"v":-160},{"s":"2105","t":36,"v":-195},{"s":"2105","t":39,"v":-160},{"s":"2105","t":43,"v":-195},{"s":"2105","t":46,"v":-255},{"s":"2105","t":49,"v":-225},{"s":"2105","t":54,"v":-255},{"s":"2105","t":58,"v":-350},{"s":"2105","t":63,"v":-320},{"s":"2105","t":68,"v":-380},{"s":"2105","t":71,"v":-350},{"s":"2105","t":74,"v":-320},{"s":"2105","t":79,"v":-290},{"s":"2105","t":84,"v":-225},{"s":"2105","t":89,"v":-195},{"s":"2105","t":93,"v":-255},{"s":"2105","t":96,"v":-290},{"s":"2105","t":99,"v":-350},{"s":"2105","t":103,"v":-320},{"s":"2105","t":108,"v":-290},{"s":"2105","t":113,"v":-320},{"s":"2105","t":116,"v":-350},{"s":"2105","t":121,"v":-380},{"s":"2105","t":126,"v":-350},{"s":"2105","t":131,"v":-410},{"s":"2105","t":136,"v":-380},{"s":"2105","t":141,"v":-445},{"s":"2105","t":144,"v":-540},{"s":"2105","t":148,"v":-570},{"s":"2105","t":151,"v":-475},{"s":"2105","t":154,"v":-380},{"s":"2105","t":158,"v":-540},{"s":"2105","t":161,"v":-445},{"s":"2105","t":164,"v":-350},{"s":"2105","t":168,"v":-320},{"s":"2105","t":173,"v":-290},{"s":"2105","t":178,"v":-255},{"s":"2105","t":181,"v":-320},{"s":"2105","t":186,"v":-290},{"s":"2105","t":191,"v":-255},{"s":"2105","t":196,"v":-195},{"s":"2105","t":199,"v":-255},{"s":"2105","t":204,"v":-225},{"s":"2105","t":209,"v":-195},{"s":"2105","t":213,"v":-130},{"s":"2105","t":216,"v":-320},{"s":"2105","t":219,"v":-445},{"s":"2105","t":223,"v":-475},{"s":"2105","t":226,"v":-350},{"s":"2105","t":229,"v":-380},{"s":"2105","t":233,"v":-410},{"s":"2105","t":236,"v":-320},{"s":"2105","t":239,"v":-290},{"s":"2105","t":243,"v":-255},{"s":"2105","t":246,"v":-225},{"s":"2105","t":249,"v":-195},{"s":"2105","t":253,"v":-225},{"s":"2105","t":256,"v":-255},{"s":"2105","t":259,"v":-290},{"s":"2105","t":263,"v":-350},{"s":"2105","t":266,"v":-380},{"s":"2105","t":269,"v":-320},
{"s":"2205","t":0,"v":-505},{"s":"2205","t":3,"v":-540},{"s":"2205","t":6,"v":-455},{"s":"2205","t":9,"v":-475},{"s":"2205","t":13,"v":-410},{"s":"2205","t":18,"v":-380},{"s":"2205","t":21,"v":-350},{"s":"2205","t":24,"v":-290},{"s":"2205","t":28,"v":-255},{"s":"2205","t":31,"v":-195},{"s":"2205","t":36,"v":-160},{"s":"2205","t":39,"v":-100},{"s":"2205","t":43,"v":-195},{"s":"2205","t":46,"v":-160},{"s":"2205","t":49,"v":-225},{"s":"2205","t":53,"v":-195},{"s":"2205","t":58,"v":-195},{"s":"2205","t":63,"v":-160},{"s":"2205","t":68,"v":-130},{"s":"2205","t":73,"v":-70},{"s":"2205","t":76,"v":0},{"s":"2205","t":79,"v":-70},{"s":"2205","t":83,"v":-130},{"s":"2205","t":86,"v":-195},{"s":"2205","t":89,"v":-255},{"s":"2205","t":93,"v":-350},{"s":"2205","t":96,"v":-320},{"s":"2205","t":99,"v":-255},{"s":"2205","t":103,"v":-195},{"s":"2205","t":106,"v":-225},{"s":"2205","t":109,"v":-255},{"s":"2205","t":113,"v":-195},{"s":"2205","t":116,"v":-70},{"s":"2205","t":119,"v":25},{"s":"2205","t":123,"v":55},{"s":"2205","t":126,"v":90},{"s":"2205","t":129,"v":120},{"s":"2205","t":133,"v":180},{"s":"2205","t":136,"v":245},{"s":"2205","t":139,"v":275},{"s":"2205","t":143,"v":305},{"s":"2205","t":146,"v":460},{"s":"2205","t":149,"v":370},{"s":"2205","t":153,"v":400},{"s":"2205","t":156,"v":305},{"s":"2205","t":159,"v":340},{"s":"2205","t":163,"v":370},{"s":"2205","t":166,"v":400},{"s":"2205","t":169,"v":430},{"s":"2205","t":173,"v":525},{"s":"2205","t":176,"v":400},{"s":"2205","t":179,"v":460},{"s":"2205","t":183,"v":430},{"s":"2205","t":186,"v":460},{"s":"2205","t":189,"v":445},{"s":"2205","t":193,"v":430},{"s":"2205","t":196,"v":460},{"s":"2205","t":199,"v":490},{"s":"2205","t":203,"v":490},{"s":"2205","t":206,"v":460},{"s":"2205","t":209,"v":430},{"s":"2205","t":213,"v":370},{"s":"2205","t":216,"v":275},{"s":"2205","t":219,"v":180},{"s":"2205","t":223,"v":120},{"s":"2205","t":226,"v":25},{"s":"2205","t":229,"v":150},{"s":"2205","t":233,"v":180},{"s":"2205","t":236,"v":150},{"s":"2205","t":239,"v":180},{"s":"2205","t":243,"v":245},{"s":"2205","t":246,"v":275},{"s":"2205","t":249,"v":245},{"s":"2205","t":253,"v":275},{"s":"2205","t":256,"v":210},{"s":"2205","t":259,"v":150},{"s":"2205","t":263,"v":90},{"s":"2205","t":266,"v":55},{"s":"2205","t":269,"v":55},
{"s":"2305","t":0,"v":55},{"s":"2305","t":6,"v":120},{"s":"2305","t":14,"v":150},{"s":"2305","t":18,"v":210},{"s":"2305","t":21,"v":245},{"s":"2305","t":24,"v":210},{"s":"2305","t":28,"v":120},{"s":"2305","t":34,"v":55},{"s":"2305","t":41,"v":25},{"s":"2305","t":44,"v":-40},{"s":"2305","t":48,"v":-5},{"s":"2305","t":54,"v":55},{"s":"2305","t":60,"v":120},{"s":"2305","t":68,"v":25},{"s":"2305","t":74,"v":-40},{"s":"2305","t":78,"v":-70},{"s":"2305","t":81,"v":-5},{"s":"2305","t":84,"v":55},{"s":"2305","t":91,"v":120},{"s":"2305","t":98,"v":90},{"s":"2305","t":104,"v":150},{"s":"2305","t":111,"v":105},{"s":"2305","t":118,"v":105},{"s":"2305","t":124,"v":150},{"s":"2305","t":131,"v":195},{"s":"2305","t":138,"v":245},{"s":"2305","t":148,"v":275},{"s":"2305","t":158,"v":305},{"s":"2305","t":168,"v":335},{"s":"2305","t":178,"v":370},{"s":"2305","t":188,"v":400},{"s":"2305","t":196,"v":305},{"s":"2305","t":206,"v":335},{"s":"2305","t":213,"v":400},{"s":"2305","t":219,"v":430},{"s":"2305","t":223,"v":480},{"s":"2305","t":229,"v":480},{"s":"2305","t":236,"v":505},{"s":"2305","t":239,"v":525},{"s":"2305","t":243,"v":495}
]
},
"concat": [
{
"width": 277, "height": 140,
"title": {"text": "LL 05-09合约价差", "fontSize": 16, "fontWeight": "normal", "color": "#595959", "anchor": "middle", "frame": "group", "offset": 2, "dy": 18},
"data": {"name": "p1"},
"mark": {"type": "line", "strokeJoin": "round"},
"encoding": {
"x": {"field": "t", "type": "quantitative", "scale": {"domain": [0, 277], "nice": false, "zero": false},
 "axis": {"values": [1, 37, 75, 113, 152, 190, 224, 263], "labelExpr": "['9月20日','10月20日','11月20日','12月20日','1月20日','2月20日','3月20日','4月20日'][indexof([1,37,75,113,152,190,224,263], datum.value)]", "grid": false, "labelFontSize": 8, "labelFontWeight": "bold", "labelPadding": 6, "labelFlush": false, "labelOverlap": false, "title": "数据来源：Wind，信达期货研究所", "titleX": 288, "titleY": 34, "titleAlign": "right", "titleBaseline": "middle", "titleFontSize": 14, "titleFontWeight": "normal", "titleColor": "#000000"}},
"y": {"field": "v", "type": "quantitative", "scale": {"domain": [-200, 300], "nice": false, "zero": false},
 "axis": {"values": [-200, -100, 0, 100, 200, 300], "labelExpr": "'' + datum.value", "labelOverlap": false, "grid": true, "gridColor": {"condition": {"test": "datum.value === 0", "value": "#000000"}, "value": "#d9d9d9"}, "labelFontSize": 11, "labelPadding": 13, "title": "元/吨", "titleAngle": 0, "titleX": -26, "titleY": -23, "titleAlign": "left", "titleBaseline": "middle", "titleFontSize": 11, "titleFontWeight": "normal", "titleColor": "#595959"}},
"color": {"field": "s", "type": "nominal", "scale": {"domain": ["1905-1909", "2005-2009", "2105-2109", "2205-2209", "2305-2309"], "range": ["#7030A0", "#00B050", "#FFC000", "#00B0F0", "#FF0000"]},
 "legend": {"title": null, "orient": "none", "legendX": 13, "legendY": -17, "direction": "horizontal", "columns": 3, "symbolType": "stroke", "symbolSize": 784, "symbolStrokeWidth": 2.5, "labelFontSize": 10, "labelColor": "#595959", "labelOffset": 3, "columnPadding": 15, "rowPadding": -14, "encode": {"symbols": {"update": {"strokeWidth": {"signal": "datum.value === '2305-2309' ? 4 : 2.5"}}}}}},
"strokeWidth": {"condition": {"test": "datum.s === '2305-2309'", "value": 3}, "value": 1.7}
}
},
{
"width": 275, "height": 140,
"title": {"text": "PP 05-09合约价差", "fontSize": 16, "fontWeight": "normal", "color": "#595959", "anchor": "middle", "frame": "group", "offset": 2, "dy": 13},
"data": {"name": "p2"},
"mark": {"type": "line", "strokeJoin": "round"},
"encoding": {
"x": {"field": "t", "type": "quantitative", "scale": {"domain": [0, 275], "nice": false, "zero": false},
 "axis": {"values": [0, 37, 75, 113, 152, 189, 223, 262], "labelExpr": "['9月20日','10月20日','11月20日','12月20日','1月20日','2月20日','3月20日','4月20日'][indexof([0,37,75,113,152,189,223,262], datum.value)]", "grid": false, "labelFontSize": 8, "labelFontWeight": "bold", "labelPadding": 6, "labelFlush": false, "labelOverlap": false, "title": "数据来源：Wind，信达期货研究所", "titleX": 288, "titleY": 34, "titleAlign": "right", "titleBaseline": "middle", "titleFontSize": 14, "titleFontWeight": "normal", "titleColor": "#000000"}},
"y": {"field": "v", "type": "quantitative", "scale": {"domain": [-311, 1269], "nice": false, "zero": false},
 "axis": {"values": [-300, -100, 0, 100, 300, 500, 700, 900, 1100], "labelExpr": "datum.value === 0 ? '' : '' + datum.value", "labelOverlap": false, "grid": true, "gridColor": {"condition": {"test": "datum.value === 0", "value": "#000000"}, "value": "#d9d9d9"}, "labelFontSize": 11, "labelPadding": 13, "title": "元/吨", "titleAngle": 0, "titleX": -26, "titleY": -19, "titleAlign": "left", "titleBaseline": "middle", "titleFontSize": 11, "titleFontWeight": "normal", "titleColor": "#595959"}},
"color": {"field": "s", "type": "nominal", "scale": {"domain": ["1905-1909", "2005-2009", "2105-2109", "2205-2209", "2305-2309"], "range": ["#7030A0", "#00B050", "#FFC000", "#00B0F0", "#FF0000"]},
 "legend": {"title": null, "orient": "none", "legendX": 10, "legendY": -11, "direction": "horizontal", "columns": 3, "symbolType": "stroke", "symbolSize": 784, "symbolStrokeWidth": 2.5, "labelFontSize": 10, "labelColor": "#595959", "labelOffset": 3, "columnPadding": 16, "rowPadding": -11, "encode": {"symbols": {"update": {"strokeWidth": {"signal": "datum.value === '2305-2309' ? 4 : 2.5"}}}}}},
"strokeWidth": {"condition": {"test": "datum.s === '2305-2309'", "value": 3}, "value": 1.7}
}
},
{
"width": 266, "height": 119,
"title": {"text": "LL-PP 现货价差", "fontSize": 16, "fontWeight": "normal", "color": "#595959", "anchor": "middle", "frame": "group", "offset": 2, "dy": 13},
"data": {"name": "p3"},
"mark": {"type": "line", "strokeJoin": "round"},
"encoding": {
"x": {"field": "t", "type": "quantitative", "scale": {"domain": [-7, 365], "nice": false, "zero": false},
 "axis": {"values": [0, 31, 59, 90, 120, 151, 181, 212, 243, 273, 304, 334], "labelExpr": "['1月1日','2月1日','3月1日','4月1日','5月1日','6月1日','7月1日','8月1日','9月1日','10月1日','11月1日','12月1日'][indexof([0,31,59,90,120,151,181,212,243,273,304,334], datum.value)]", "grid": false, "labelFontSize": 8, "labelFontWeight": "bold", "labelAngle": -45, "labelAlign": "right", "labelBaseline": "middle", "labelPadding": 4, "labelFlush": false, "labelOverlap": false, "title": null}},
"y": {"field": "v", "type": "quantitative", "scale": {"domain": [-2500, 1000], "nice": false, "zero": false},
 "axis": {"values": [-2500, -2000, -1500, -1000, -500, 0, 500, 1000], "labelExpr": "'' + datum.value", "labelOverlap": false, "grid": true, "gridColor": {"condition": {"test": "datum.value === 0", "value": "#000000"}, "value": "#d9d9d9"}, "labelFontSize": 11, "labelPadding": 9, "title": "元/吨", "titleAngle": 0, "titleX": -24, "titleY": -20, "titleAlign": "left", "titleBaseline": "middle", "titleFontSize": 11, "titleFontWeight": "normal", "titleColor": "#595959"}},
"color": {"field": "s", "type": "nominal", "scale": {"domain": ["2019年", "2020年", "2021年", "2022年", "2023年"], "range": ["#7030A0", "#00B050", "#FFC000", "#00B0F0", "#FF0000"]},
 "legend": {"title": null, "orient": "none", "legendX": -21, "legendY": -15, "direction": "horizontal", "columns": 5, "symbolType": "stroke", "symbolSize": 676, "symbolStrokeWidth": 2.5, "labelFontSize": 10, "labelColor": "#595959", "labelOffset": 3, "columnPadding": 3, "encode": {"symbols": {"update": {"strokeWidth": {"signal": "datum.value === '2023年' ? 4 : 2.5"}}}}}},
"strokeWidth": {"condition": {"test": "datum.s === '2023年'", "value": 3}, "value": 1.8}
}
},
{
"width": 273, "height": 119,
"title": {"text": "LL-PP 05合约价差", "fontSize": 16, "fontWeight": "normal", "color": "#595959", "anchor": "middle", "frame": "group", "offset": 2, "dy": 13},
"data": {"name": "p4"},
"mark": {"type": "line", "strokeJoin": "round"},
"encoding": {
"x": {"field": "t", "type": "quantitative", "scale": {"domain": [-4, 269], "nice": false, "zero": false},
 "axis": {"values": [0, 23, 45, 68, 92, 115, 139, 163, 188, 211, 235, 259], "labelExpr": "['5月20日','6月20日','7月20日','8月20日','9月20日','10月20日','11月20日','12月20日','1月20日','2月20日','3月20日','4月20日'][indexof([0,23,45,68,92,115,139,163,188,211,235,259], datum.value)]", "grid": false, "labelFontSize": 8, "labelFontWeight": "bold", "labelAngle": -45, "labelAlign": "right", "labelBaseline": "middle", "labelPadding": 4, "labelFlush": false, "labelOverlap": false, "title": null}},
"y": {"field": "v", "type": "quantitative", "scale": {"domain": [-1605, 625], "nice": false, "zero": false},
 "axis": {"values": [-1500, -1000, -500, 0, 500], "labelExpr": "'' + datum.value", "labelOverlap": false, "grid": true, "gridColor": {"condition": {"test": "datum.value === 0", "value": "#000000"}, "value": "#d9d9d9"}, "labelFontSize": 11, "labelPadding": 8, "title": "元/吨", "titleAngle": 0, "titleX": -26, "titleY": -23, "titleAlign": "left", "titleBaseline": "middle", "titleFontSize": 11, "titleFontWeight": "normal", "titleColor": "#595959"}},
"color": {"field": "s", "type": "nominal", "scale": {"domain": ["1905", "2005", "2105", "2205", "2305"], "range": ["#7030A0", "#00B050", "#FFC000", "#00B0F0", "#FF0000"]},
 "legend": {"title": null, "orient": "none", "legendX": 8, "legendY": -15, "direction": "horizontal", "columns": 5, "symbolType": "stroke", "symbolSize": 676, "symbolStrokeWidth": 2.5, "labelFontSize": 11, "labelColor": "#595959", "labelOffset": 3, "columnPadding": 4, "encode": {"symbols": {"update": {"strokeWidth": {"signal": "datum.value === '2305' ? 4 : 2.5"}}}}}},
"strokeWidth": {"condition": {"test": "datum.s === '2305'", "value": 3}, "value": 1.8}
}
}
]
}
